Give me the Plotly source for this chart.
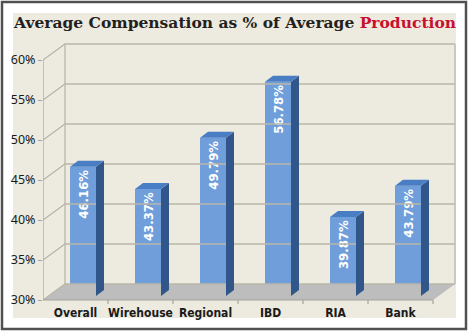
import plotly.graph_objects as go

categories = ["Overall", "Wirehouse", "Regional", "IBD", "RIA", "Bank"]
values = [46.16, 43.37, 49.79, 56.78, 39.87, 43.79]
value_labels = ["46.16%", "43.37%", "49.79%", "56.78%", "39.87%", "43.79%"]
y_ticks = [30, 35, 40, 45, 50, 55, 60]
y_tick_labels = ["30%", "35%", "40%", "45%", "50%", "55%", "60%"]

W, H = 468, 331
ML, MR, MT, MB = 43, 12, 40, 27
PX_PER_CAT = 65.0
PX_PER_PCT = 8.0
X0 = -0.5
XMAX = X0 + (W - ML - MR) / PX_PER_CAT
YMIN = 30 - 4 / PX_PER_PCT
YMAX = YMIN + (H - MT - MB) / PX_PER_PCT
BASE = y_ticks[0]
TOP = y_ticks[-1]
NCAT = len(categories)


def dx(px):
    return px / PX_PER_CAT


def dy(px):
    return px / PX_PER_PCT


def pxx(p):
    return (p - ML) / (W - ML - MR)


def pxy(p):
    return (H - MB - p) / (H - MT - MB)


DX, DY = dx(22), dy(16)
XL, XR = -0.5, NCAT - 0.5

BG = "#edeadf"
GRID = "#b9b6aa"
FRONT = "#6f9edb"
SIDE = "#30568a"
TOPC = "#4a7ec4"
NARROW = "DejaVu Sans Condensed"

fig = go.Figure()

# floor
fig.add_trace(go.Scatter(
    x=[XL, XR, XR + DX, XL + DX, XL], y=[BASE, BASE, BASE + DY, BASE + DY, BASE],
    fill="toself", fillcolor="#bdbdbd", mode="lines", line=dict(width=0),
    hoverinfo="skip"))

# back wall gridlines + side wall diagonals
gx, gy = [], []
for t in y_ticks:
    gx += [XL, XL + DX, XR + DX, None]
    gy += [t, t + DY, t + DY, None]
fig.add_trace(go.Scatter(x=gx, y=gy, mode="lines", line=dict(color=GRID, width=1.3),
                         hoverinfo="skip"))
# back verticals
fig.add_trace(go.Scatter(
    x=[XL + DX, XL + DX, None, XR + DX, XR + DX],
    y=[BASE + DY, TOP + DY, None, BASE + DY, TOP + DY],
    mode="lines", line=dict(color=GRID, width=1.3), hoverinfo="skip"))
# front axis lines + category ticks
ax, ay = [XL, XL, None, XL, XR, None], [TOP, BASE, None, BASE, BASE, None]
for i in range(NCAT):
    ax += [i + 0.5, i + 0.5, None]
    ay += [BASE, BASE - dy(4), None]
fig.add_trace(go.Scatter(x=ax, y=ay, mode="lines", line=dict(color="#a5a39c", width=1.2),
                         hoverinfo="skip"))

# bars: side & top faces
FL, FR, SD, SH, LIFT = dx(-5.5), dx(20.5), dx(8), dy(6), dy(4)
sx, sy, tx, ty = [], [], [], []
for i, v in enumerate(values):
    sx += [i + FR, i + FR + SD, i + FR + SD, i + FR, i + FR, None]
    sy += [BASE + LIFT, BASE + LIFT + SH, v + LIFT + SH, v + LIFT, BASE + LIFT, None]
    tx += [i + FL, i + FR, i + FR + SD, i + FL + SD, i + FL, None]
    ty += [v + LIFT, v + LIFT, v + LIFT + SH, v + LIFT + SH, v + LIFT, None]
fig.add_trace(go.Scatter(x=sx, y=sy, fill="toself", fillcolor=SIDE, mode="lines",
                         line=dict(width=0), hoverinfo="skip"))
fig.add_trace(go.Scatter(x=tx, y=ty, fill="toself", fillcolor=TOPC, mode="lines",
                         line=dict(width=0), hoverinfo="skip"))

# bars: front faces with labels
fig.add_trace(go.Bar(
    x=[i + (FL + FR) / 2 for i in range(NCAT)],
    y=[v - BASE for v in values], base=BASE + LIFT,
    width=FR - FL, marker=dict(color=FRONT, line=dict(width=0)),
    text=value_labels, textposition="inside", insidetextanchor="end", textangle=-90,
    textfont=dict(family=NARROW, size=13, color="white", weight="bold"),
    hoverinfo="skip"))

shapes = [
    dict(type="rect", xref="paper", yref="paper", layer="below",
         x0=pxx(13), x1=pxx(456), y0=pxy(318), y1=pxy(13),
         fillcolor=BG, line=dict(width=0)),
    dict(type="rect", xref="paper", yref="paper", layer="above",
         x0=pxx(2), x1=pxx(466), y0=pxy(329), y1=pxy(2),
         fillcolor="rgba(0,0,0,0)", line=dict(color="#505050", width=2.5)),
]

fig.update_layout(
    width=W, height=H, margin=dict(l=ML, r=MR, t=MT, b=MB, autoexpand=False),
    paper_bgcolor="white", plot_bgcolor="rgba(0,0,0,0)",
    showlegend=False, hovermode=False, shapes=shapes,
    xaxis=dict(range=[X0, XMAX], tickvals=list(range(NCAT)), ticktext=categories,
               showgrid=False, zeroline=False, showline=False, ticks="", tickangle=0,
               automargin=False,
               tickfont=dict(family=NARROW, size=12, color="#1a1a1a",
                             weight="bold"), fixedrange=True),
    yaxis=dict(range=[YMIN, YMAX], tickvals=y_ticks, ticktext=y_tick_labels,
               showgrid=False, zeroline=False, showline=False, ticks="outside",
               ticklen=4, tickcolor="#a5a39c", automargin=False,
               tickfont=dict(family="Noto Sans", size=12.5, color="#1a1a1a"),
               fixedrange=True),
    annotations=[dict(
        xref="paper", yref="paper", x=pxx(11), y=pxy(22), xanchor="left", yanchor="middle",
        showarrow=False,
        text="Average Compensation as % of Average <span style='color:#c8102e'>Production</span>",
        font=dict(family="DejaVu Serif", size=15.5, color="#231f20", weight="bold"))],
)

fig.write_html("out.html")
